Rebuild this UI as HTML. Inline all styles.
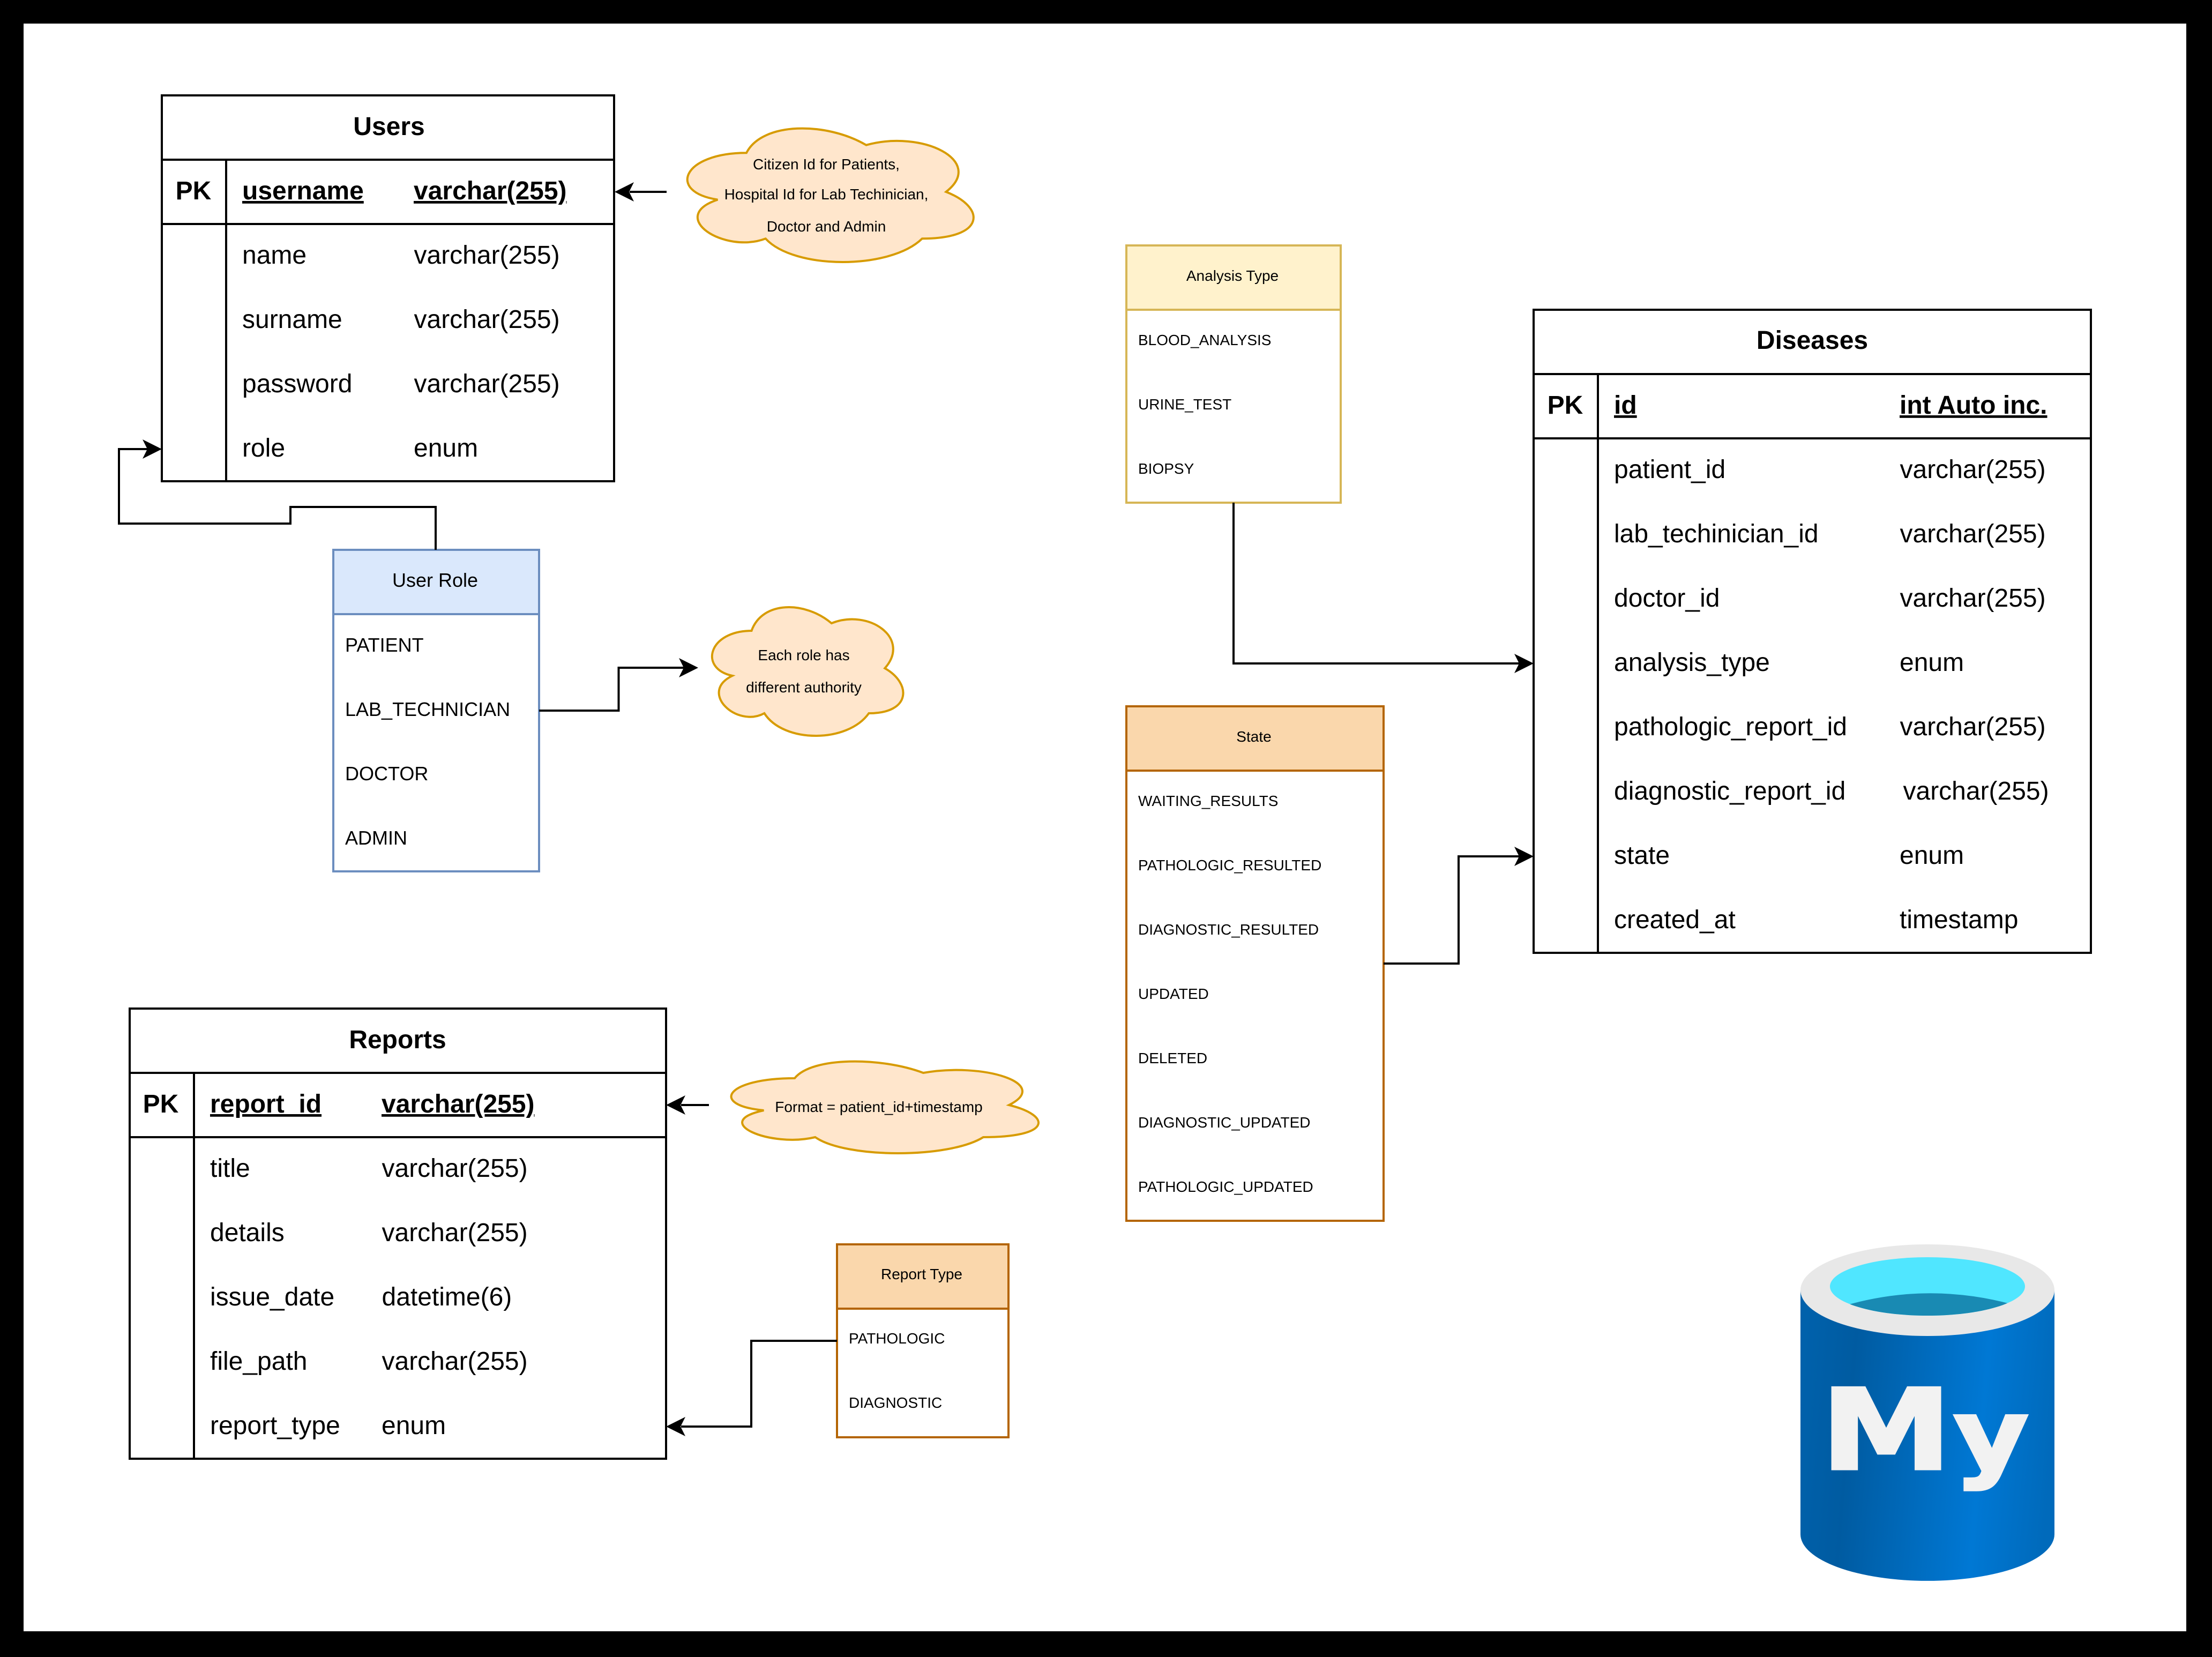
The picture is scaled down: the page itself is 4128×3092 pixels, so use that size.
<!DOCTYPE html>
<html lang="en">
<head>
<meta charset="utf-8">
<title>Database diagram</title>
<style>
html,body{margin:0;padding:0;background:#000;width:4128px;height:3092px;overflow:hidden}
svg{display:block;position:absolute;left:0;top:0}
text{font-family:"Liberation Sans",Arial,sans-serif;fill:#000;white-space:pre}
.t48{font-size:48px}
.t36{font-size:36px}
.t28{font-size:28px}
.b{font-weight:bold}
.u{text-decoration:underline}
.m{text-anchor:middle}
.ln{fill:none;stroke:#000;stroke-width:4;stroke-linecap:butt;stroke-linejoin:miter}
.ar{fill:#000;stroke:none}
.box{fill:#fff;stroke:#000;stroke-width:4}
.cl{fill:#ffe6cc;stroke:#d79b00;stroke-width:4;stroke-linejoin:miter}
</style>
</head>
<body>
<svg xmlns="http://www.w3.org/2000/svg" width="4128" height="3092" viewBox="0 0 4128 3092">
<defs>
<linearGradient id="dbg" gradientUnits="userSpaceOnUse" x1="3360" y1="2600" x2="3834" y2="2640">
<stop offset="0" stop-color="#0061ab"/>
<stop offset="0.2" stop-color="#005ba1"/>
<stop offset="0.72" stop-color="#0078d4"/>
<stop offset="1" stop-color="#006abb"/>
</linearGradient>
<clipPath id="cyanclip"><ellipse cx="3597" cy="2400.5" rx="182" ry="54.5"/></clipPath>
</defs>

<rect x="0" y="0" width="4128" height="3092" fill="#000"/>
<rect x="44" y="44" width="4036" height="3000" fill="#fff"/>

<!-- Users -->
<rect class="box" x="302" y="178" width="844" height="720"/>
<path class="ln" d="M302 298H1146M302 418H1146M422 298V898"/>
<text class="t48 b m" x="726" y="252">Users</text>
<text class="t48 b m" x="361" y="372">PK</text>
<text class="t48 b u" x="452" y="372">username</text>
<text class="t48 b u" x="772" y="372">varchar(255)</text>
<text class="t48" x="452" y="492">name</text><text class="t48" x="772.5" y="492">varchar(255)</text>
<text class="t48" x="452" y="612">surname</text><text class="t48" x="772.5" y="612">varchar(255)</text>
<text class="t48" x="452" y="732">password</text><text class="t48" x="772.5" y="732">varchar(255)</text>
<text class="t48" x="452" y="852">role</text><text class="t48" x="772" y="852">enum</text>

<!-- Diseases -->
<rect class="box" x="2862" y="578" width="1040" height="1200"/>
<path class="ln" d="M2862 698H3902M2862 818H3902M2982 698V1778"/>
<text class="t48 b m" x="3382" y="651">Diseases</text>
<text class="t48 b m" x="2921" y="772">PK</text>
<text class="t48 b u" x="3012" y="772">id</text>
<text class="t48 b u" x="3545" y="772">int Auto inc.</text>
<text class="t48" x="3012" y="892">patient_id</text><text class="t48" x="3545.5" y="892">varchar(255)</text>
<text class="t48" x="3012" y="1012">lab_techinician_id</text><text class="t48" x="3545.5" y="1012">varchar(255)</text>
<text class="t48" x="3012" y="1132">doctor_id</text><text class="t48" x="3545.5" y="1132">varchar(255)</text>
<text class="t48" x="3012" y="1252">analysis_type</text><text class="t48" x="3545" y="1252">enum</text>
<text class="t48" x="3012" y="1372">pathologic_report_id</text><text class="t48" x="3545.5" y="1372">varchar(255)</text>
<text class="t48" x="3012" y="1492">diagnostic_report_id</text><text class="t48" x="3551.5" y="1492">varchar(255)</text>
<text class="t48" x="3012" y="1612">state</text><text class="t48" x="3545" y="1612">enum</text>
<text class="t48" x="3012" y="1732">created_at</text><text class="t48" x="3545" y="1732">timestamp</text>

<!-- Reports -->
<rect class="box" x="242" y="1882" width="1001" height="840"/>
<path class="ln" d="M242 2002H1243M242 2122H1243M362 2002V2722"/>
<text class="t48 b m" x="742" y="1956">Reports</text>
<text class="t48 b m" x="300" y="2076">PK</text>
<text class="t48 b u" x="392" y="2076">report_id</text>
<text class="t48 b u" x="712" y="2076">varchar(255)</text>
<text class="t48" x="392" y="2196">title</text><text class="t48" x="712.5" y="2196">varchar(255)</text>
<text class="t48" x="392" y="2316">details</text><text class="t48" x="712.5" y="2316">varchar(255)</text>
<text class="t48" x="392" y="2436">issue_date</text><text class="t48" x="712.5" y="2436">datetime(6)</text>
<text class="t48" x="392" y="2556">file_path</text><text class="t48" x="712.5" y="2556">varchar(255)</text>
<text class="t48" x="392" y="2676">report_type</text><text class="t48" x="712" y="2676">enum</text>

<!-- User Role -->
<rect x="622" y="1026" width="384" height="600" fill="#fff" stroke="#6c8ebf" stroke-width="4"/>
<rect x="622" y="1026" width="384" height="120" fill="#dae8fc" stroke="#6c8ebf" stroke-width="4"/>
<text class="t36 m" x="812" y="1095">User Role</text>
<text class="t36" x="644" y="1216">PATIENT</text>
<text class="t36" x="644" y="1336">LAB_TECHNICIAN</text>
<text class="t36" x="644" y="1456">DOCTOR</text>
<text class="t36" x="644" y="1576">ADMIN</text>

<!-- Analysis Type -->
<rect x="2102" y="458" width="400" height="480" fill="#fff" stroke="#d6b656" stroke-width="4"/>
<rect x="2102" y="458" width="400" height="120" fill="#fff2cc" stroke="#d6b656" stroke-width="4"/>
<text class="t28 m" x="2300" y="524">Analysis Type</text>
<text class="t28" x="2124" y="644">BLOOD_ANALYSIS</text>
<text class="t28" x="2124" y="764">URINE_TEST</text>
<text class="t28" x="2124" y="884">BIOPSY</text>

<!-- State -->
<rect x="2102" y="1318" width="480" height="960" fill="#fff" stroke="#b46504" stroke-width="4"/>
<rect x="2102" y="1318" width="480" height="120" fill="#fad7ac" stroke="#b46504" stroke-width="4"/>
<text class="t28 m" x="2340" y="1384">State</text>
<text class="t28" x="2124" y="1504">WAITING_RESULTS</text>
<text class="t28" x="2124" y="1624">PATHOLOGIC_RESULTED</text>
<text class="t28" x="2124" y="1744">DIAGNOSTIC_RESULTED</text>
<text class="t28" x="2124" y="1864">UPDATED</text>
<text class="t28" x="2124" y="1984">DELETED</text>
<text class="t28" x="2124" y="2104">DIAGNOSTIC_UPDATED</text>
<text class="t28" x="2124" y="2224">PATHOLOGIC_UPDATED</text>

<!-- Report Type -->
<rect x="1562" y="2322" width="320" height="360" fill="#fff" stroke="#b46504" stroke-width="4"/>
<rect x="1562" y="2322" width="320" height="120" fill="#fad7ac" stroke="#b46504" stroke-width="4"/>
<text class="t28 m" x="1720" y="2387">Report Type</text>
<text class="t28" x="1584" y="2507">PATHOLOGIC</text>
<text class="t28" x="1584" y="2627">DIAGNOSTIC</text>

<!-- Clouds -->
<g transform="translate(1244 212.5) scale(5.96 2.91)">
<path class="cl" vector-effect="non-scaling-stroke" d="M25 25C5 25 0 50 16 55C0 66 18 90 31 80C40 100 70 100 80 80C100 80 100 60 87.5 50C100 30 80 10 62.5 20C50 5 30 5 25 25Z"/>
</g>
<text class="t28 m" x="1542" y="316">Citizen Id for Patients,</text>
<text class="t28 m" x="1542" y="372">Hospital Id for Lab Techinician,</text>
<text class="t28 m" x="1542" y="432">Doctor and Admin</text>

<g transform="translate(1303 1107) scale(3.98 2.8)">
<path class="cl" vector-effect="non-scaling-stroke" d="M25 25C5 25 0 50 16 55C0 66 18 90 31 80C40 100 70 100 80 80C100 80 100 60 87.5 50C100 30 80 10 62.5 20C50 5 30 5 25 25Z"/>
</g>
<text class="t28 m" x="1500" y="1232">Each role has</text>
<text class="t28 m" x="1500" y="1292">different authority</text>

<g transform="translate(1323 1962) scale(6.4 2)">
<path class="cl" vector-effect="non-scaling-stroke" d="M25 25C5 25 0 50 16 55C0 66 18 90 31 80C40 100 70 100 80 80C100 80 100 60 87.5 50C100 30 80 10 62.5 20C50 5 30 5 25 25Z"/>
</g>
<text class="t28 m" x="1640" y="2075">Format = patient_id+timestamp</text>

<!-- Connectors -->
<path class="ln" d="M813 1026V946H542V977H222V838H275"/>
<path class="ar" d="M302 838L266 820L275 838L266 856Z"/>

<path class="ln" d="M1244 358H1175"/>
<path class="ar" d="M1147 358L1183 340L1174 358L1183 376Z"/>

<path class="ln" d="M1006 1326H1154.5V1246H1277"/>
<path class="ar" d="M1303 1246L1267 1228L1276 1246L1267 1264Z"/>

<path class="ln" d="M2302 938V1238H2835"/>
<path class="ar" d="M2862 1238L2826 1220L2835 1238L2826 1256Z"/>

<path class="ln" d="M2582 1798H2722V1598H2835"/>
<path class="ar" d="M2862 1598L2826 1580L2835 1598L2826 1616Z"/>

<path class="ln" d="M1323 2062H1271"/>
<path class="ar" d="M1243 2062L1279 2044L1270 2062L1279 2080Z"/>

<path class="ln" d="M1562 2502H1402V2662H1271"/>
<path class="ar" d="M1243 2662L1279 2644L1270 2662L1279 2680Z"/>

<!-- Database icon -->
<path d="M3360 2407V2863A237 87 0 0 0 3834 2863V2407Z" fill="url(#dbg)"/>
<ellipse cx="3597" cy="2407.5" rx="237" ry="85.5" fill="#e8e8e8"/>
<ellipse cx="3597" cy="2400.5" rx="182" ry="54.5" fill="#50e6ff"/>
<g clip-path="url(#cyanclip)">
<path d="M3440 2437Q3597 2391 3755 2434V2470H3440Z" fill="#198ab3"/>
</g>
<text transform="translate(3398 2741) scale(1.18 1)" font-size="208" style="font-family:'DejaVu Sans',sans-serif;font-weight:bold;fill:#f2f2f2;stroke:#f2f2f2;stroke-width:5">M<tspan dx="3" font-size="182">y</tspan></text>
</svg>
</body>
</html>
